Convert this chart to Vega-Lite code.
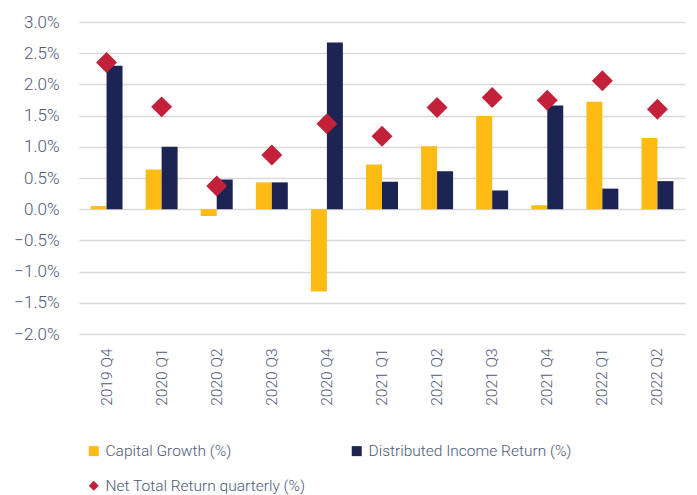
{
  "$schema": "https://vega.github.io/schema/vega-lite/v6.json",
  "width": 606,
  "height": 312,
  "autosize": "none",
  "padding": {"left": 79, "top": 22, "right": 12, "bottom": 161},
  "background": "white",
  "data": {
    "values": [
      {"quarter": "2019 Q4", "series": "Capital Growth (%)", "value": 0.05},
      {"quarter": "2019 Q4", "series": "Distributed Income Return (%)", "value": 2.30},
      {"quarter": "2019 Q4", "series": "Net Total Return quarterly (%)", "value": 2.35},
      {"quarter": "2020 Q1", "series": "Capital Growth (%)", "value": 0.635},
      {"quarter": "2020 Q1", "series": "Distributed Income Return (%)", "value": 1.00},
      {"quarter": "2020 Q1", "series": "Net Total Return quarterly (%)", "value": 1.64},
      {"quarter": "2020 Q2", "series": "Capital Growth (%)", "value": -0.11},
      {"quarter": "2020 Q2", "series": "Distributed Income Return (%)", "value": 0.475},
      {"quarter": "2020 Q2", "series": "Net Total Return quarterly (%)", "value": 0.37},
      {"quarter": "2020 Q3", "series": "Capital Growth (%)", "value": 0.43},
      {"quarter": "2020 Q3", "series": "Distributed Income Return (%)", "value": 0.43},
      {"quarter": "2020 Q3", "series": "Net Total Return quarterly (%)", "value": 0.87},
      {"quarter": "2020 Q4", "series": "Capital Growth (%)", "value": -1.32},
      {"quarter": "2020 Q4", "series": "Distributed Income Return (%)", "value": 2.67},
      {"quarter": "2020 Q4", "series": "Net Total Return quarterly (%)", "value": 1.37},
      {"quarter": "2021 Q1", "series": "Capital Growth (%)", "value": 0.715},
      {"quarter": "2021 Q1", "series": "Distributed Income Return (%)", "value": 0.44},
      {"quarter": "2021 Q1", "series": "Net Total Return quarterly (%)", "value": 1.17},
      {"quarter": "2021 Q2", "series": "Capital Growth (%)", "value": 1.01},
      {"quarter": "2021 Q2", "series": "Distributed Income Return (%)", "value": 0.61},
      {"quarter": "2021 Q2", "series": "Net Total Return quarterly (%)", "value": 1.63},
      {"quarter": "2021 Q3", "series": "Capital Growth (%)", "value": 1.495},
      {"quarter": "2021 Q3", "series": "Distributed Income Return (%)", "value": 0.30},
      {"quarter": "2021 Q3", "series": "Net Total Return quarterly (%)", "value": 1.79},
      {"quarter": "2021 Q4", "series": "Capital Growth (%)", "value": 0.065},
      {"quarter": "2021 Q4", "series": "Distributed Income Return (%)", "value": 1.66},
      {"quarter": "2021 Q4", "series": "Net Total Return quarterly (%)", "value": 1.745},
      {"quarter": "2022 Q1", "series": "Capital Growth (%)", "value": 1.72},
      {"quarter": "2022 Q1", "series": "Distributed Income Return (%)", "value": 0.33},
      {"quarter": "2022 Q1", "series": "Net Total Return quarterly (%)", "value": 2.06},
      {"quarter": "2022 Q2", "series": "Capital Growth (%)", "value": 1.14},
      {"quarter": "2022 Q2", "series": "Distributed Income Return (%)", "value": 0.45},
      {"quarter": "2022 Q2", "series": "Net Total Return quarterly (%)", "value": 1.60}
    ]
  },
  "encoding": {
    "x": {
      "field": "quarter",
      "type": "nominal",
      "sort": null,
      "scale": {"paddingInner": 0.42, "paddingOuter": 0.21},
      "axis": {
        "title": null,
        "labelAngle": -90,
        "labelAlign": "right",
        "labelBaseline": "middle",
        "labelPadding": 14,
        "ticks": false,
        "domain": false,
        "labelFont": "Roboto",
        "labelFontWeight": 300,
        "labelFontSize": 15.5,
        "labelColor": "#4d5878"
      }
    },
    "y": {
      "field": "value",
      "type": "quantitative",
      "scale": {"domain": [-2, 3], "nice": false, "zero": false},
      "axis": {
        "title": null,
        "values": [-2, -1.5, -1, -0.5, 0, 0.5, 1, 1.5, 2, 2.5, 3],
        "labelExpr": "format(datum.value, '.1f') + '%'",
        "ticks": false,
        "domain": false,
        "labelPadding": 20,
        "labelFont": "Roboto",
        "labelFontWeight": 300,
        "labelFontSize": 17,
        "labelColor": "#4d5878",
        "grid": true,
        "gridColor": "#d9d9d9",
        "gridWidth": 1.6
      }
    },
    "color": {
      "field": "series",
      "type": "nominal",
      "scale": {
        "domain": ["Capital Growth (%)", "Distributed Income Return (%)", "Net Total Return quarterly (%)"],
        "range": ["#FDBB13", "#1B2452", "#C3213A"]
      },
      "legend": {
        "title": null,
        "orient": "none",
        "legendX": 7,
        "legendY": 421,
        "direction": "horizontal",
        "columns": 2,
        "padding": 0,
        "columnPadding": 43,
        "rowPadding": 18,
        "symbolSize": 100,
        "symbolOffset": 0,
        "symbolStrokeWidth": 0,
        "labelOffset": 4,
        "labelFont": "Roboto",
        "labelFontWeight": 300,
        "labelFontSize": 15.5,
        "labelColor": "#4d5878",
        "labelLimit": 400
      }
    }
  },
  "layer": [
    {
      "transform": [{"filter": "datum.series !== 'Net Total Return quarterly (%)'"}],
      "mark": {"type": "bar"},
      "encoding": {
        "xOffset": {
          "field": "series",
          "type": "nominal",
          "scale": {"domain": ["Capital Growth (%)", "Distributed Income Return (%)"], "paddingInner": 0, "paddingOuter": 0}
        },
        "y2": {"datum": 0}
      }
    },
    {
      "transform": [{"filter": "datum.series === 'Net Total Return quarterly (%)'"}],
      "mark": {"type": "point", "filled": true, "opacity": 1, "size": 440},
      "encoding": {
        "shape": {
          "field": "series",
          "type": "nominal",
          "scale": {
            "domain": ["Capital Growth (%)", "Distributed Income Return (%)", "Net Total Return quarterly (%)"],
            "range": ["square", "square", "diamond"]
          },
          "legend": {
            "title": null,
            "orient": "none",
            "legendX": 7,
            "legendY": 421,
            "direction": "horizontal",
            "columns": 2,
            "padding": 0,
            "columnPadding": 43,
            "rowPadding": 18,
            "symbolSize": 100,
            "symbolOffset": 0,
            "symbolStrokeWidth": 0,
            "labelOffset": 4,
            "labelFont": "Roboto",
            "labelFontWeight": 300,
            "labelFontSize": 15.5,
            "labelColor": "#4d5878",
            "labelLimit": 400
          }
        }
      }
    }
  ],
  "config": {"view": {"stroke": null}}
}
